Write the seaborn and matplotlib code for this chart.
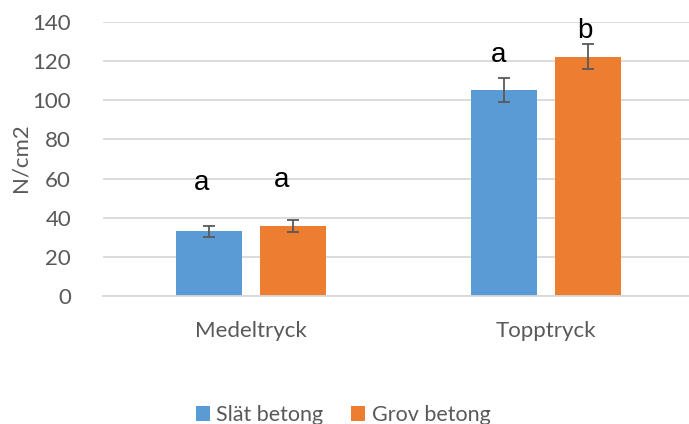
import matplotlib
matplotlib.use("Agg")
import matplotlib.pyplot as plt
import seaborn as sns
import pandas as pd

# Data
categories = ["Medeltryck", "Topptryck"]
series = ["Slät betong", "Grov betong"]
slat_values = [33.0, 105.3]
grov_values = [35.7, 122.3]
slat_err = [3.0, 6.2]
grov_err = [2.9, 6.3]
slat_letters = ["a", "a"]
grov_letters = ["a", "b"]
yticks = [0, 20, 40, 60, 80, 100, 120, 140]

# Heights at which the significance letters sit (data units)
slat_letter_y = [54, 119.5]
grov_letter_y = [55.7, 131.7]

colors = {"Slät betong": "#5B9BD5", "Grov betong": "#ED7D31"}
text_gray = "#595959"
grid_gray = "#D9D9D9"

df = pd.DataFrame({
    "Kategori": categories * 2,
    "Serie": [series[0]] * 2 + [series[1]] * 2,
    "Värde": slat_values + grov_values,
})

sns.set_theme(style="white")
plt.rcParams["font.family"] = ["Lato", "DejaVu Sans"]

fig = plt.figure(figsize=(6.89, 4.24), dpi=100)
ax = fig.add_axes([103 / 689, 128 / 424, 1 - 103 / 689, 274 / 424])

sns.barplot(data=df, x="Kategori", y="Värde", hue="Serie", order=categories,
            hue_order=series, palette=colors, width=0.57, gap=0.214,
            errorbar=None, ax=ax, legend=True, linewidth=0, saturation=1)

# Error bars and letters positioned on the drawn bars
patches = [p for p in ax.patches if p.get_height() > 0]
patches = sorted(patches, key=lambda p: p.get_x())
centers = [p.get_x() + p.get_width() / 2 for p in patches]
heights = [p.get_height() for p in patches]
errs = [slat_err[0], grov_err[0], slat_err[1], grov_err[1]]
letters = [slat_letters[0], grov_letters[0], slat_letters[1], grov_letters[1]]
letter_y = [slat_letter_y[0], grov_letter_y[0], slat_letter_y[1], grov_letter_y[1]]
letter_dx = [-0.024, -0.04, -0.017, -0.01]

ax.errorbar(centers, heights, yerr=errs, fmt="none", ecolor=text_gray,
            elinewidth=1.3, capsize=4.5, capthick=1.3, zorder=4)

for cx, ly, lt, dx in zip(centers, letter_y, letters, letter_dx):
    ax.text(cx + dx, ly, lt, ha="center", va="baseline", fontsize=20,
            family=["Liberation Sans", "DejaVu Sans"], color="black")

ax.set_xlim((103 - 251) / 295, (689 - 251) / 295)
ax.set_ylim(0, 140)
ax.set_yticks(yticks)
ax.yaxis.grid(True, color=grid_gray, linewidth=1.3)
ax.set_axisbelow(True)
for s in ["top", "right", "left"]:
    ax.spines[s].set_visible(False)
ax.spines["bottom"].set_color(grid_gray)
ax.spines["bottom"].set_linewidth(1.3)

ax.tick_params(axis="y", length=0, pad=23, labelsize=16, labelcolor=text_gray)
ax.tick_params(axis="x", length=0, pad=18, labelsize=16, labelcolor=text_gray)
ax.set_xlabel("")
ax.set_ylabel("N/cm2", fontsize=16, color=text_gray)
ax.yaxis.set_label_coords(-72 / 586, (296 - 158) / 274)

handles, labels = ax.get_legend_handles_labels()
ax.get_legend().remove()
fig.legend(handles, labels, loc="center", bbox_to_anchor=(343 / 689, 9 / 424),
           ncol=2, frameon=False, fontsize=15.5, labelcolor=text_gray,
           handlelength=0.65, handleheight=0.65, handletextpad=0.3,
           columnspacing=1.3)

fig.savefig("out.png", dpi=100)
